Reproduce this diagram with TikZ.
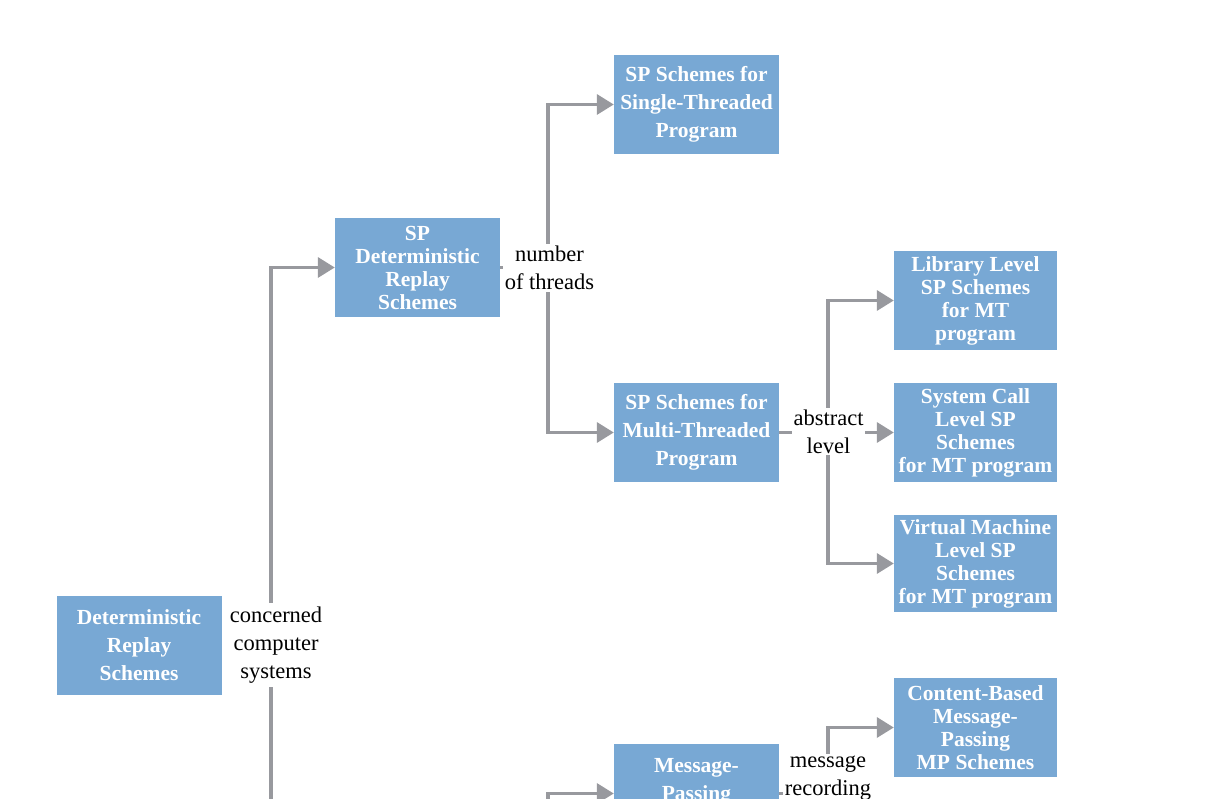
\documentclass[tikz,border=0pt]{standalone}
\usepackage{fontspec}
\setmainfont{Liberation Serif}
\usetikzlibrary{arrows.meta}
\definecolor{boxblue}{RGB}{120,168,212}
\definecolor{lngray}{RGB}{152,153,158}
\begin{document}
\begin{tikzpicture}[x=1pt,y=-1pt,
  box/.style={fill=boxblue,text=white,align=center,inner sep=0pt,
    minimum width=165pt,minimum height=99pt,
    font=\fontsize{21.5}{28}\selectfont\bfseries},
  boxfour/.style={box,font=\fontsize{21.5}{23}\selectfont\bfseries},
  lab/.style={fill=white,align=center,inner xsep=1.5pt,inner ysep=2pt,
    font=\fontsize{22.5}{28}\selectfont},
  ln/.style={draw=lngray,line width=3.5pt,line join=miter},
  arr/.style={ln,-{Triangle[length=17pt,width=20pt]}}]
\useasboundingbox (0,0) rectangle (1228,799);
\clip (0,0) rectangle (1228,799);
% boxes
\node[box] (DRS) at (139,645.5) {Deterministic\\Replay\\Schemes};
\node[boxfour] (SPDRS) at (417.5,267.5) {SP\\Deterministic\\Replay\\Schemes};
\node[box] (SPST) at (696.5,104.5) {SP Schemes for\\Single-Threaded\\Program};
\node[box] (SPMT) at (696.5,432.5) {SP Schemes for\\Multi-Threaded\\Program};
\node[box] (MP) at (696.5,793.5) {Message-\\Passing\\\mbox{}};
\node[boxfour,minimum width=163pt] (Lib) at (975.5,300.5) {Library Level\\SP Schemes\\for MT\\program};
\node[boxfour,minimum width=163pt] (Sys) at (975.5,432.5) {System Call\\Level SP\\Schemes\\for MT program};
\node[boxfour,minimum width=163pt,minimum height=97pt] (VM) at (975.5,563.5) {Virtual Machine\\Level SP\\Schemes\\for MT program};
\node[boxfour,minimum width=163pt] (CB) at (975.5,727.5) {Content-Based\\Message-\\Passing\\MP Schemes};
% trunk columns
\coordinate (k1) at (271,0);
\coordinate (k2) at (548,0);
\coordinate (k3) at (828,0);
\coordinate (below) at (0,840);
% connectors
\draw[arr] (DRS.east) -- (DRS.east -| k1) |- (SPDRS.west);
\draw[ln] (DRS.east -| k1) -- (k1 |- below);
\draw[arr] (SPDRS.east) -- (SPDRS.east -| k2) |- (SPST.west);
\draw[arr] (SPDRS.east -| k2) |- (SPMT.west);
\draw[arr] (SPMT.east) -- (Sys.west);
\draw[arr] (SPMT.east -| k3) |- (Lib.west);
\draw[arr] (SPMT.east -| k3) |- (VM.west);
\draw[arr] (k2 |- below) |- (MP.west);
\draw[ln] (MP.east) -- (MP.east -| k3);
\draw[arr] (MP.east -| k3) |- (CB.west);
% labels
\node[lab,inner xsep=8pt,inner ysep=4pt] (L1) at (276,645) {concerned\\computer\\systems};
\node[lab] (L2) at (549.5,268) {number\\of threads};
\node[lab] (L3) at (828.5,431.5) {abstract\\level};
\node[lab] (L4) at (828,778) {message\\recording};
\end{tikzpicture}
\end{document}
